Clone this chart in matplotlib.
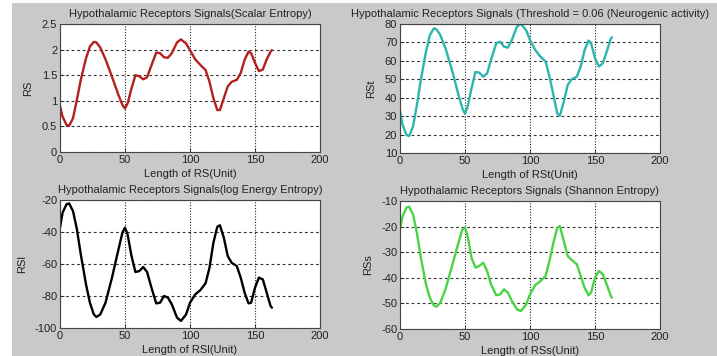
# Hypothalamic receptor signal entropies - 2x2 panel

import numpy as np
import matplotlib.pyplot as plt
from matplotlib.ticker import FuncFormatter

''' sample positions (unit) '''
x = [0, 2, 5, 7, 10, 13, 16, 20, 23, 26, 28, 31, 35, 40, 45, 48, 50, 52, 55, 58,
     61, 64, 67, 70, 74, 77, 80, 83, 86, 90, 93, 97, 100, 104, 108, 112, 115, 118,
     121, 123, 126, 129, 132, 136, 139, 142, 145, 147, 150, 153, 156, 159, 162, 163]

''' scalar entropy '''
rs = [0.90, 0.69, 0.53, 0.51, 0.66, 1.02, 1.41, 1.83, 2.06, 2.15, 2.14, 2.04, 1.81,
      1.47, 1.11, 0.92, 0.85, 0.95, 1.24, 1.50, 1.48, 1.42, 1.46, 1.67, 1.94, 1.93,
      1.85, 1.84, 1.93, 2.14, 2.20, 2.12, 1.99, 1.81, 1.70, 1.60, 1.37, 1.05, 0.82,
      0.82, 1.05, 1.28, 1.37, 1.41, 1.54, 1.80, 1.96, 1.93, 1.74, 1.58, 1.61, 1.81,
      1.96, 1.99]

''' threshold entropy '''
rst = [33.0, 25.2, 19.8, 19.2, 24.3, 36.0, 49.6, 65.0, 74.0, 77.6, 77.1, 74.0, 66.8,
       55.0, 41.5, 34.2, 31.2, 35.2, 45.0, 54.0, 53.6, 51.4, 53.2, 60.5, 69.5, 70.4,
       67.7, 67.2, 71.3, 78.6, 80.0, 76.7, 71.3, 65.9, 62.3, 59.6, 51.4, 41.5, 31.5,
       30.2, 37.9, 46.9, 50.0, 51.4, 56.9, 65.9, 71.0, 69.5, 61.4, 56.9, 58.7, 65.0,
       71.7, 72.8]

''' log energy entropy '''
rsl = [-37.3, -27.9, -22.7, -22.1, -26.9, -38.3, -54.0, -72.7, -84.2, -91.5, -93.1,
       -91.5, -84.2, -68.5, -50.8, -40.4, -37.3, -41.5, -55.0, -65.0, -64.4, -61.9,
       -65.0, -73.8, -84.6, -84.2, -80.0, -81.0, -85.2, -93.5, -95.6, -91.5, -84.2,
       -79.0, -76.3, -72.0, -62.3, -46.7, -36.7, -35.8, -43.5, -55.0, -59.2, -61.3,
       -68.5, -77.9, -84.6, -84.2, -74.8, -68.5, -69.6, -77.9, -86.3, -87.3]

''' shannon entropy '''
rss = [-21.1, -15.9, -12.6, -12.2, -15.2, -22.4, -32.1, -42.6, -47.8, -50.8, -51.3,
       -49.7, -44.5, -35.4, -26.3, -21.1, -20.4, -23.7, -32.1, -36.0, -35.4, -34.1,
       -37.3, -42.6, -46.8, -46.5, -44.5, -45.8, -49.0, -52.3, -53.0, -50.4, -46.5,
       -42.9, -41.3, -39.3, -33.4, -26.3, -20.4, -19.8, -25.6, -31.5, -33.0, -34.7,
       -39.3, -43.9, -46.8, -45.8, -40.0, -37.3, -38.6, -42.6, -46.8, -47.8]

xticks = [0, 50, 100, 150, 200]

panels = [
    (rs, '#b3201f', 'Hypothalamic Receptors Signals(Scalar Entropy)', 'RS',
     'Length of RS(Unit)', (0, 2.5), [0, 0.5, 1, 1.5, 2, 2.5]),
    (rst, '#2bb5ae', 'Hypothalamic Receptors Signals (Threshold = 0.06 (Neurogenic activity)',
     'RSt', 'Length of RSt(Unit)', (10, 80), [10, 20, 30, 40, 50, 60, 70, 80]),
    (rsl, '#000000', 'Hypothalamic Receptors Signals(log Energy Entropy)', 'RSl',
     'Length of RSl(Unit)', (-100, -20), [-100, -80, -60, -40, -20]),
    (rss, '#48d444', 'Hypothalamic Receptors Signals (Shannon Entropy)', 'RSs',
     'Length of RSs(Unit)', (-60, -10), [-60, -50, -40, -30, -20, -10]),
]

boxes = [
    [60/717, 1 - 152/356, 260/717, 128/356],
    [400/717, 1 - 153/356, 260/717, 129/356],
    [60/717, 1 - 328/356, 260/717, 128/356],
    [400/717, 1 - 329/356, 260/717, 128/356],
]

plt.rcParams['font.family'] = ['Liberation Sans', 'DejaVu Sans']
plt.rcParams['font.size'] = 8

fig = plt.figure(figsize=(7.17, 3.56), dpi=100, facecolor='white')
# grey window background, kept behind the axes
fig.add_artist(plt.Rectangle((12/717, 0), 1, 1 - 3/356, transform=fig.transFigure,
                             facecolor='#c9c9c9', edgecolor='none', zorder=-10))

for (y, col, title, ylab, xlab, ylim, yt), box in zip(panels, boxes):
    ax = fig.add_axes(box)
    ax.plot(x, y, color=col, lw=1.7, solid_capstyle='round')
    ax.set_xlim(0, 200)
    ax.set_ylim(*ylim)
    ax.set_xticks(xticks)
    ax.set_yticks(yt)
    ax.yaxis.set_major_formatter(FuncFormatter(lambda v, p: '%g' % v))
    ax.tick_params(direction='in', length=3, width=0.6, pad=2, labelsize=8, colors='#222222')
    ax.xaxis.grid(True, color='#222222', linestyle=(0, (1, 1.5)), lw=0.8)
    ax.yaxis.grid(True, color='#333333', linestyle=(0, (2.5, 2.5)), lw=0.8)
    for s in ax.spines.values():
        s.set_color('#444444')
        s.set_linewidth(0.8)
    ax.set_title(title, fontsize=8, pad=5, color='#222222')
    ax.set_ylabel(ylab, fontsize=8, labelpad=6, color='#222222')
    ax.set_xlabel(xlab, fontsize=8, labelpad=3, color='#222222')

plt.savefig('out.png', dpi=100, facecolor=fig.get_facecolor())
